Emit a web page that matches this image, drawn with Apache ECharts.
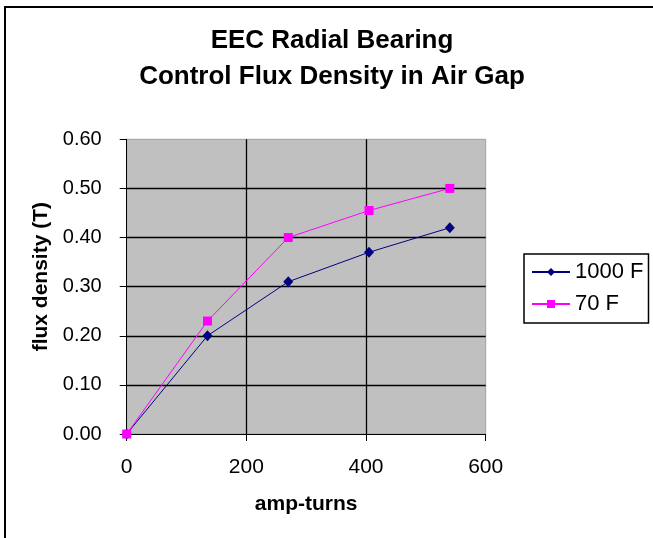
<!DOCTYPE html>
<html>
<head>
<meta charset="utf-8">
<script src="https://cdn.jsdelivr.net/npm/echarts@6/dist/echarts.min.js"></script>
<style>
html,body{margin:0;padding:0;background:#fff;}
#chart{width:653px;height:538px;}
</style>
</head>
<body>
<div id="chart"></div>
<script>
const titleLines = ['EEC Radial Bearing', 'Control Flux Density in Air Gap'];
const xTitle = 'amp-turns';
const yTitle = 'flux density (T)';
const seriesNames = ['1000 F', '70 F'];
const ampTurns = [0, 135, 270, 405, 540];
const flux1000F = [0.00, 0.20, 0.31, 0.37, 0.42];
const flux70F = [0.00, 0.23, 0.40, 0.455, 0.50];

const FONT = '"Liberation Sans", Arial, sans-serif';
const chart = echarts.init(document.getElementById('chart'));
chart.setOption({
  animation: false,
  backgroundColor: '#fff',
  textStyle: {fontFamily: FONT},
  title: {
    text: titleLines.join('\n'),
    left: 332, top: 23, textAlign: 'center', padding: 0,
    textStyle: {fontFamily: FONT, fontSize: 26, fontWeight: 'bold', color: '#000', lineHeight: 36}
  },
  graphic: [{
    type: 'rect', z: 0,
    shape: {x: 5, y: 7, width: 700, height: 600},
    style: {fill: 'none', stroke: '#000', lineWidth: 2}
  }],
  grid: {
    left: 126.7, right: 167.3, top: 139.3, bottom: 104,
    show: true, backgroundColor: '#c0c0c0', borderColor: '#a0a0a0', borderWidth: 1
  },
  legend: {
    orient: 'vertical', left: 524, top: 254,
    padding: [7, 5, 8, 7], itemGap: 10,
    backgroundColor: '#fff', borderColor: '#000', borderWidth: 1.5, borderRadius: 0,
    itemWidth: 38, itemHeight: 10,
    textStyle: {fontFamily: FONT, fontSize: 22, color: '#000'},
    data: seriesNames
  },
  xAxis: {
    type: 'value', min: 0, max: 600, interval: 200,
    name: xTitle, nameLocation: 'middle', nameGap: 60,
    nameTextStyle: {fontFamily: FONT, fontSize: 21, fontWeight: 'bold', color: '#000'},
    axisLine: {show: true, lineStyle: {color: '#000', width: 1}},
    axisTick: {show: true, length: 7, lineStyle: {color: '#000'}},
    axisLabel: {fontFamily: FONT, fontSize: 21, color: '#000', margin: 23},
    splitLine: {show: true, showMinLine: false, showMaxLine: false, lineStyle: {color: '#000', width: 1.3}}
  },
  yAxis: {
    type: 'value', min: 0, max: 0.6, interval: 0.1,
    name: yTitle, nameLocation: 'middle', nameGap: 74,
    nameTextStyle: {fontFamily: FONT, fontSize: 21, fontWeight: 'bold', color: '#000', padding: [0, 0, 0, 20]},
    axisLine: {show: true, lineStyle: {color: '#000', width: 1}},
    axisTick: {show: true, length: 7, lineStyle: {color: '#000'}},
    axisLabel: {fontFamily: FONT, fontSize: 20, color: '#000', margin: 25,
      formatter: v => v.toFixed(2)},
    splitLine: {show: true, showMinLine: false, showMaxLine: false, lineStyle: {color: '#000', width: 1.3}}
  },
  series: [
    {
      name: seriesNames[0], type: 'line',
      data: ampTurns.map((x, i) => [x, flux1000F[i]]),
      symbol: 'diamond', symbolSize: [10, 11],
      lineStyle: {color: '#000080', width: 1},
      itemStyle: {color: '#000080'}
    },
    {
      name: seriesNames[1], type: 'line',
      data: ampTurns.map((x, i) => [x, flux70F[i]]),
      symbol: 'rect', symbolSize: 9,
      lineStyle: {color: '#ff00ff', width: 1},
      itemStyle: {color: '#ff00ff'}
    }
  ]
});
</script>
</body>
</html>
